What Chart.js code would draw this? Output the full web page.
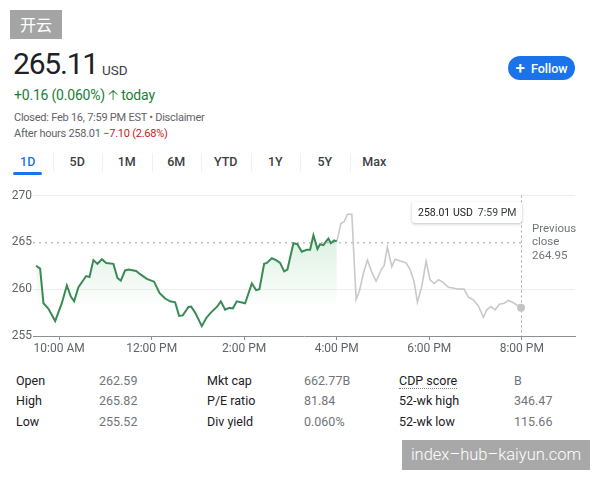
<!DOCTYPE html>
<html><head><meta charset="utf-8">
<script src="https://cdn.jsdelivr.net/npm/chart.js@4/dist/chart.umd.min.js"></script>
<style>
html,body{margin:0;padding:0;background:#fff;width:600px;height:480px;overflow:hidden;font-family:Roboto,Arial,sans-serif;}
.abs{position:absolute;white-space:nowrap;}
#wm1{left:10px;top:10px;width:52px;height:29px;background:#a4a4a4;color:#fff;font:16px "Noto Sans CJK SC",sans-serif;line-height:29px;text-align:center;}
#price{left:13px;top:46px;font-size:30px;color:#202124;letter-spacing:-1.2px;line-height:36px;}
#usd{left:102px;top:62px;font-size:13.5px;color:#3c4043;line-height:16px;}
#chg{left:14px;top:87px;font-size:14px;color:#188038;line-height:17px;letter-spacing:-0.2px;}
#closed{left:14px;top:111px;font-size:11px;color:#5f6368;line-height:14px;letter-spacing:-0.25px;}
#after{left:14px;top:127px;font-size:11px;color:#5f6368;line-height:14px;letter-spacing:-0.25px;}
#after span{color:#c5221f;}
#follow{left:508px;top:56px;width:67px;height:24px;border-radius:12px;background:#1a73e8;color:#fff;font-size:12.5px;font-weight:500;line-height:24px;text-align:center;}
.tab{position:absolute;top:154px;width:49.5px;text-align:center;font-size:12.5px;font-weight:500;color:#3c4043;line-height:16px;}
.sep{position:absolute;top:153px;width:1px;height:19px;background:#f0f0f0;}
#uline{left:13px;top:172px;width:29px;height:3px;border-radius:2px;background:#1a73e8;}
#chartbox{position:absolute;left:0;top:185px;width:600px;height:175px;}
#tip{height:21px;background:#fff;box-shadow:0 1px 3px rgba(0,0,0,0.25);border-radius:3px;font-size:10.5px;color:#202124;line-height:21px;padding:0 6px;}
#tip span{color:#3c4043;margin-left:5px;}
#prev{left:532px;top:222px;font-size:11.5px;color:#70757a;line-height:13.3px;white-space:normal;width:60px;}
.st{position:absolute;font-size:12.5px;line-height:16px;}
.lb{color:#202124;}
.vl{color:#70757a;}
#cdp{border-bottom:1px dotted #80868b;}
#wm2{left:402px;top:440px;width:188px;height:30px;background:#a8a8a8;color:#fff;font-size:16.5px;line-height:30px;text-align:center;font-weight:300;}
</style></head><body>
<div id="wm1" class="abs">开云</div>
<div id="price" class="abs">265.11</div>
<div id="usd" class="abs">USD</div>
<div id="chg" class="abs">+0.16 (0.060%) &#129121; today</div>
<div id="closed" class="abs">Closed: Feb 16, 7:59 PM EST • Disclaimer</div>
<div id="after" class="abs">After hours 258.01 <span>−7.10 (2.68%)</span></div>
<div id="follow" class="abs"><span style="font-size:17px;vertical-align:-1px;margin-right:6px;">+</span>Follow</div>
<div id="tabs"></div>
<div id="uline" class="abs"></div>
<div id="chartbox"><canvas id="c" width="600" height="175"></canvas></div>
<div id="tip" class="abs">258.01 USD<span>7:59 PM</span></div>
<div id="prev" class="abs">Previous close 264.95</div>
<div id="stats"></div>
<div id="wm2" class="abs">index–hub–kaiyun.com</div>
<script>
// ---- data ----
const regularTimes = [9.503,9.589,9.661,9.769,9.914,10.058,10.166,10.253,10.324,10.417,10.584,10.655,10.741,10.828,10.923,11.016,11.174,11.26,11.333,11.426,11.498,11.664,11.751,11.895,12.053,12.168,12.291,12.399,12.507,12.593,12.673,12.795,12.853,12.939,13.084,13.177,13.279,13.408,13.495,13.588,13.681,13.754,13.841,14.02,14.165,14.258,14.329,14.431,14.489,14.597,14.69,14.776,14.863,14.934,15.064,15.15,15.245,15.353,15.425,15.496,15.583,15.641,15.712,15.77,15.82,15.872,15.943,16.002];
const regularPrices = [262.5,262.2,258.5,257.9,256.6,258.5,260.4,259.2,258.7,260.2,261.4,261.3,263.1,262.7,263.2,262.8,262.7,261.2,260.9,262.0,262.1,261.95,261.6,261.1,260.8,259.6,259.0,258.7,258.6,257.15,257.2,258.1,258.15,257.5,256.05,256.9,257.5,258.1,258.7,257.8,258.0,257.95,258.7,258.5,260.6,259.9,260.0,262.7,262.8,263.3,263.1,262.8,261.9,262.1,264.9,264.8,264.0,264.2,264.2,265.75,264.3,264.8,264.7,265.1,265.4,264.9,265.2,265.1];
const afterHoursTimes = [16.002,16.036,16.088,16.159,16.231,16.326,16.419,16.49,16.577,16.663,16.758,16.851,16.974,17.024,17.095,17.19,17.262,17.407,17.499,17.586,17.672,17.744,17.839,17.932,18.018,18.105,18.198,18.293,18.414,18.537,18.63,18.753,18.846,18.941,19.062,19.17,19.244,19.33,19.423,19.516,19.618,19.711,19.819,19.927,19.983];
const afterHoursPrices = [265.1,265.8,267.0,267.2,268.0,268.0,258.9,259.8,261.7,263.1,261.8,260.85,262.2,262.5,264.5,262.4,263.2,262.95,262.8,262.1,260.8,258.6,260.3,263.0,261.0,260.6,261.0,260.75,260.2,260.1,260.0,260.0,259.15,258.9,258.2,257.0,257.8,258.15,257.8,258.4,258.5,258.8,258.55,258.2,258.01];
const previousClose = 264.95;
const yTicks = [255,260,265,270];
const xTickHours = [10,12,14,16,18,20];
const xTickLabels = ['10:00 AM','12:00 PM','2:00 PM','4:00 PM','6:00 PM','8:00 PM'];
const tabLabels = ['1D','5D','1M','6M','YTD','1Y','5Y','Max'];
const statLabels1 = ['Open','High','Low'];
const statValues1 = ['262.59','265.82','255.52'];
const statLabels2 = ['Mkt cap','P/E ratio','Div yield'];
const statValues2 = ['662.77B','81.84','0.060%'];
const statLabels3 = ['CDP score','52-wk high','52-wk low'];
const statValues3 = ['B','346.47','115.66'];

// ---- tabs ----
const tabsEl = document.getElementById('tabs');
tabLabels.forEach((t,i)=>{
  const d=document.createElement('div'); d.className='tab'; d.textContent=t;
  d.style.left=(3+i*49.5)+'px'; if(i===0) d.style.color='#1a73e8';
  tabsEl.appendChild(d);
  if(i>0){const s=document.createElement('div'); s.className='sep'; s.style.left=(3+i*49.5)+'px'; tabsEl.appendChild(s);}
});
// ---- stats ----
const statsEl=document.getElementById('stats');
const cols=[[16,statLabels1,'lb'],[99,statValues1,'vl'],[207,statLabels2,'lb'],[304,statValues2,'vl'],[399,statLabels3,'lb'],[514,statValues3,'vl']];
cols.forEach(([x,arr,cls])=>arr.forEach((t,r)=>{
  const d=document.createElement('div'); d.className='st '+cls; d.style.left=x+'px'; d.style.top=(373+r*20.3)+'px';
  if(t==='CDP score'){d.innerHTML='<span id="cdp">'+t+'</span>';} else d.textContent=t;
  statsEl.appendChild(d);
}));

// ---- chart ----
Chart.defaults.font.family='Roboto, Arial, sans-serif';
const lastT = afterHoursTimes[afterHoursTimes.length-1];
const crosshair={id:'crosshair',beforeDatasetsDraw(chart){
  const {ctx,chartArea,scales}=chart; const x=Math.round(scales.x.getPixelForValue(lastT))+0.5;
  ctx.save(); ctx.strokeStyle='#a0a4a8'; ctx.lineWidth=1; ctx.setLineDash([2,3]);
  ctx.beginPath(); ctx.moveTo(x,chartArea.top); ctx.lineTo(x,chartArea.bottom); ctx.stroke(); ctx.restore();
}};
const chart=new Chart(document.getElementById('c'),{
  type:'line',
  data:{datasets:[
    {data:[{x:9.435,y:previousClose},{x:lastT,y:previousClose}],borderColor:'#a0a4a8',borderWidth:1,borderDash:[2,4],pointRadius:0,fill:false,order:3},
    {data:regularTimes.map((t,i)=>({x:t,y:regularPrices[i]})),borderColor:'#3a8a55',borderWidth:2,pointRadius:0,tension:0,
     fill:'start',
     backgroundColor:(ctx)=>{const c=ctx.chart; const a=c.chartArea; if(!a) return 'rgba(0,0,0,0)';
       const y=c.scales.y; const g=c.ctx.createLinearGradient(0,y.getPixelForValue(266),0,y.getPixelForValue(258));
       g.addColorStop(0,'rgba(70,180,100,0.2)'); g.addColorStop(1,'rgba(70,180,100,0)'); return g;},order:1},
    {data:afterHoursTimes.map((t,i)=>({x:t,y:afterHoursPrices[i]})),borderColor:'#c9c9c9',borderWidth:1.6,tension:0,fill:false,
     pointRadius:(ctx)=>ctx.dataIndex===afterHoursTimes.length-1?4:0,pointBackgroundColor:'#c4c4c4',pointBorderWidth:0,order:2}
  ]},
  options:{
    responsive:false,animation:false,events:[],
    layout:{padding:{top:10.5,right:25,left:0,bottom:0}},
    plugins:{legend:{display:false},tooltip:{enabled:false}},
    scales:{
      x:{type:'linear',min:9.435,max:21.15,
        afterBuildTicks:(s)=>{s.ticks=xTickHours.map(v=>({value:v}));},
        afterFit:(s)=>{s.height=24;},
        ticks:{callback:(v)=>xTickLabels[xTickHours.indexOf(v)],color:'#5f6368',font:{size:12},padding:2,maxRotation:0,autoSkip:false},
        grid:{drawOnChartArea:false,drawTicks:true,tickLength:4,color:'#8a8f94'},
        border:{display:true,color:'#8a8f94',width:1}},
      y:{min:255,max:270,
        afterBuildTicks:(s)=>{s.ticks=yTicks.map(v=>({value:v}));},
        afterFit:(s)=>{s.width=33;},
        ticks:{color:'#5f6368',font:{size:12},padding:1},
        grid:{drawTicks:false,color:(c)=>(c.tick&&(c.tick.value===260||c.tick.value===270))?'#efefef':'rgba(0,0,0,0)'},
        border:{display:false}}
    }
  },
  plugins:[crosshair]
});
// tooltip box aligned to the last point
const tip=document.getElementById('tip');
const px=chart.scales.x.getPixelForValue(lastT);
tip.style.left=(px-tip.offsetWidth+1)+'px';
tip.style.top=(185+chart.chartArea.top+6)+'px';
</script>
</body></html>
